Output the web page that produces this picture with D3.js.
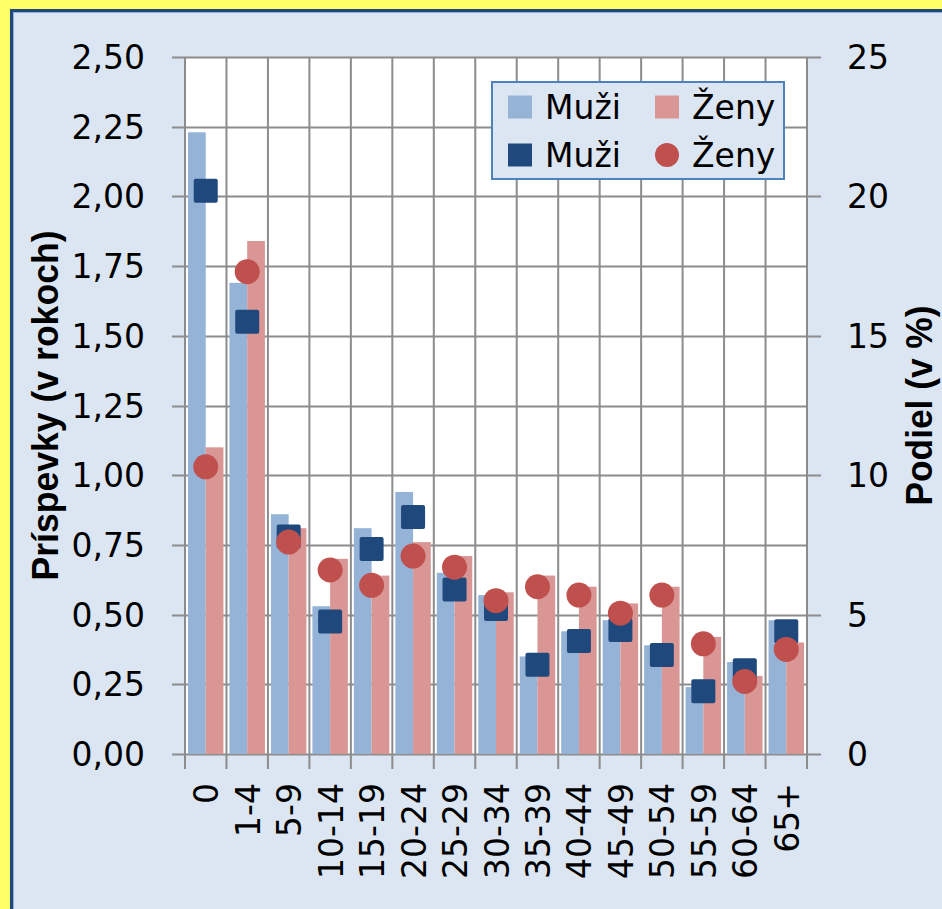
<!DOCTYPE html>
<html>
<head>
<meta charset="utf-8">
<script src="https://cdn.jsdelivr.net/npm/d3@7"></script>
<style>
  html, body { margin: 0; padding: 0; background: #fff; }
  svg { display: block; }
</style>
</head>
<body>
<svg id="chart" width="942" height="909"></svg>
<script>
// ---- data ----
const categories = ["0","1-4","5-9","10-14","15-19","20-24","25-29","30-34","35-39","40-44","45-49","50-54","55-59","60-64","65+"];
const muziBars = [2.23, 1.69, 0.86, 0.53, 0.81, 0.94, 0.65, 0.57, 0.35, 0.44, 0.48, 0.39, 0.24, 0.33, 0.48];
const zenyBars = [1.10, 1.84, 0.81, 0.70, 0.64, 0.76, 0.71, 0.58, 0.64, 0.60, 0.54, 0.60, 0.42, 0.28, 0.40];
const muziPct  = [20.2, 15.5, 7.8, 4.75, 7.35, 8.5, 5.9, 5.2, 3.2, 4.05, 4.45, 3.55, 2.25, 3.0, 4.4];
const zenyPct  = [10.3, 17.3, 7.6, 6.6, 6.05, 7.1, 6.7, 5.5, 6.0, 5.7, 5.05, 5.7, 3.95, 2.6, 3.75];
const leftTicks = [0, 0.25, 0.5, 0.75, 1.0, 1.25, 1.5, 1.75, 2.0, 2.25, 2.5];
const rightTicks = [0, 5, 10, 15, 20, 25];
const leftTitle = "Príspevky (v rokoch)";
const rightTitle = "Podiel (v %)";
const legendLabels = ["Muži", "Ženy", "Muži", "Ženy"];

// ---- layout ----
const W = 942, H = 909;
const plot = { left: 185, right: 807, top: 57, bottom: 754 };
const C = {
  yellow: "#FFFF66", frame: "#1F497D", frameInner: "#95B3D7", bg: "#DCE6F2",
  grid: "#8C8C8C", barM: "#95B3D7", barZ: "#D99694", mkM: "#1F497D", mkZ: "#C0504D"
};
const tickFont = "'DejaVu Sans', sans-serif";
const titleFont = "'Liberation Sans', Arial, sans-serif";

const svg = d3.select("#chart");

// background frame
svg.append("rect").attr("x", 0).attr("y", 0).attr("width", W).attr("height", H).attr("fill", C.yellow);
svg.append("rect").attr("x", 10).attr("y", 9).attr("width", W + 20).attr("height", H + 20).attr("fill", C.frame);
svg.append("rect").attr("x", 13).attr("y", 12).attr("width", W + 20).attr("height", H + 20).attr("fill", C.frameInner);
svg.append("rect").attr("x", 14).attr("y", 13).attr("width", W + 20).attr("height", H + 20).attr("fill", C.bg);

// scales
const x = d3.scaleBand().domain(categories).range([plot.left, plot.right]).paddingInner(0).paddingOuter(0);
const xs = d3.scaleBand().domain(["m", "z"]).range([0, x.bandwidth()]).paddingInner(0).paddingOuter(0.17);
const yL = d3.scaleLinear().domain([0, 2.5]).range([plot.bottom, plot.top]);
const yR = d3.scaleLinear().domain([0, 25]).range([plot.bottom, plot.top]);

// plot area
svg.append("rect").attr("x", plot.left).attr("y", plot.top)
  .attr("width", plot.right - plot.left).attr("height", plot.bottom - plot.top).attr("fill", "#fff");

const g = svg.append("g");

// horizontal gridlines with left ticks
g.selectAll("line.hg").data(leftTicks).join("line")
  .attr("x1", plot.left - 13).attr("x2", plot.right)
  .attr("y1", d => Math.round(yL(d)) + 0.5).attr("y2", d => Math.round(yL(d)) + 0.5)
  .attr("stroke", C.grid).attr("stroke-width", 2);
// right ticks
g.selectAll("line.rt").data(rightTicks).join("line")
  .attr("x1", plot.right).attr("x2", plot.right + 14)
  .attr("y1", d => Math.round(yR(d)) + 0.5).attr("y2", d => Math.round(yR(d)) + 0.5)
  .attr("stroke", C.grid).attr("stroke-width", 2);

// vertical gridlines at category boundaries + ticks below
const bounds = categories.map(c => x(c)).concat([plot.right]);
g.selectAll("line.vg").data(bounds).join("line")
  .attr("x1", d => d).attr("x2", d => d)
  .attr("y1", plot.top).attr("y2", plot.bottom + 15)
  .attr("stroke", C.grid).attr("stroke-width", 2);

// bars
const bars = svg.append("g");
bars.selectAll("rect.m").data(categories).join("rect")
  .attr("x", (c) => x(c) + xs("m")).attr("width", xs.bandwidth())
  .attr("y", (c, i) => yL(muziBars[i])).attr("height", (c, i) => plot.bottom - yL(muziBars[i]))
  .attr("fill", C.barM);
bars.selectAll("rect.z").data(categories).join("rect")
  .attr("x", (c) => x(c) + xs("z")).attr("width", xs.bandwidth())
  .attr("y", (c, i) => yL(zenyBars[i])).attr("height", (c, i) => plot.bottom - yL(zenyBars[i]))
  .attr("fill", C.barZ);

// markers
const mk = svg.append("g");
const sq = 24;
mk.selectAll("rect.sq").data(categories).join("rect")
  .attr("x", c => x(c) + x.bandwidth() / 2 - sq / 2)
  .attr("y", (c, i) => yR(muziPct[i]) - sq / 2)
  .attr("width", sq).attr("height", sq).attr("rx", 2)
  .attr("fill", C.mkM);
mk.selectAll("circle").data(categories).join("circle")
  .attr("cx", c => x(c) + x.bandwidth() / 2)
  .attr("cy", (c, i) => yR(zenyPct[i]))
  .attr("r", 12.5)
  .attr("fill", C.mkZ);

// left tick labels
const fmt = d => d3.format(".2f")(d).replace(".", ",");
svg.append("g").selectAll("text").data(leftTicks).join("text")
  .attr("x", 145).attr("y", d => yL(d) + 12)
  .attr("text-anchor", "end")
  .attr("font-family", tickFont).attr("font-size", 33).attr("fill", "#000")
  .text(fmt);

// right tick labels
svg.append("g").selectAll("text").data(rightTicks).join("text")
  .attr("x", 847).attr("y", d => yR(d) + 12)
  .attr("text-anchor", "start")
  .attr("font-family", tickFont).attr("font-size", 33).attr("fill", "#000")
  .text(d => d);

// x labels (rotated)
svg.append("g").selectAll("text").data(categories).join("text")
  .attr("transform", c => `translate(${x(c) + x.bandwidth() / 2 + 12.5},783) rotate(-90)`)
  .attr("text-anchor", "end")
  .attr("font-family", tickFont).attr("font-size", 33).attr("fill", "#000")
  .text(c => c);

// axis titles
svg.append("text")
  .attr("transform", `translate(58,${(plot.top + plot.bottom) / 2}) rotate(-90)`)
  .attr("text-anchor", "middle")
  .attr("font-family", titleFont).attr("font-weight", "bold").attr("font-size", 37)
  .attr("textLength", 350).attr("lengthAdjust", "spacingAndGlyphs")
  .text(leftTitle);
svg.append("text")
  .attr("transform", `translate(932,${(plot.top + plot.bottom) / 2}) rotate(-90)`)
  .attr("text-anchor", "middle")
  .attr("font-family", titleFont).attr("font-weight", "bold").attr("font-size", 37)
  .attr("textLength", 200).attr("lengthAdjust", "spacingAndGlyphs")
  .text(rightTitle);

// legend
const lg = svg.append("g");
lg.append("rect").attr("x", 492).attr("y", 82).attr("width", 292).attr("height", 97)
  .attr("fill", C.bg).attr("stroke", "#4F81BD").attr("stroke-width", 2);
const legItems = [
  { col: 0, row: 0, type: "rect", color: C.barM, label: legendLabels[0] },
  { col: 1, row: 0, type: "rect", color: C.barZ, label: legendLabels[1] },
  { col: 0, row: 1, type: "rect", color: C.mkM, label: legendLabels[2] },
  { col: 1, row: 1, type: "circle", color: C.mkZ, label: legendLabels[3] }
];
const colX = [508, 655], rowY = [107, 155];
legItems.forEach(it => {
  const sx = colX[it.col], cy = rowY[it.row];
  if (it.type === "rect") {
    lg.append("rect").attr("x", sx).attr("y", cy - 11.5).attr("width", 24).attr("height", 23).attr("fill", it.color);
  } else {
    lg.append("circle").attr("cx", sx + 12).attr("cy", cy).attr("r", 12).attr("fill", it.color);
  }
  lg.append("text").attr("x", sx + 37).attr("y", cy + 12)
    .attr("font-family", "'DejaVu Sans', sans-serif").attr("font-size", 33).attr("fill", "#000")
    .text(it.label);
});
</script>
</body>
</html>
